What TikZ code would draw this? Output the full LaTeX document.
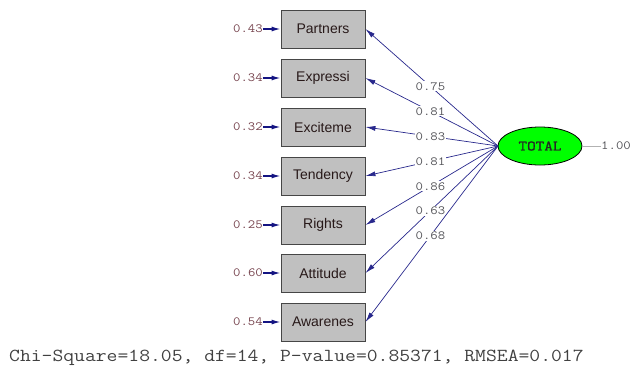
\documentclass[tikz,border=0pt]{standalone}
\usepackage{fontspec}
\setmainfont{Liberation Sans}
\newfontfamily\cour[FakeStretch=1.15]{Latin Modern Mono}
\newfontfamily\courb[FakeStretch=1.15,FakeBold=1.2]{Latin Modern Mono}
\usetikzlibrary{arrows.meta,shapes.geometric}
\definecolor{arrowblue}{RGB}{40,40,140}
\definecolor{errblue}{RGB}{20,20,130}
\definecolor{boxgray}{RGB}{192,192,192}
\definecolor{edgegray}{RGB}{70,70,70}
\definecolor{errred}{RGB}{120,70,80}
\definecolor{labgray}{RGB}{85,85,90}
\definecolor{boxtext}{RGB}{40,25,25}
\definecolor{lvgreen}{RGB}{0,255,0}
\tikzset{
  x=1pt, y=-1pt,
  obs/.style={draw=edgegray, line width=0.9pt, fill=boxgray, minimum width=84pt, minimum height=38pt, inner sep=0pt, font=\fontsize{14}{14}\selectfont, text=boxtext},
  lat/.style={ellipse, draw=black, line width=0.8pt, fill=lvgreen, minimum width=84pt, minimum height=38pt, inner sep=0pt, font=\courb\fontsize{14.5}{14.5}\selectfont, text=black!85},
  errlab/.style={anchor=east, inner sep=0pt, font=\cour\fontsize{12.5}{12.5}\selectfont, text=errred},
  load/.style={draw=arrowblue, line width=0.7pt, -{Latex[length=10pt,width=5pt]}},
  errarr/.style={draw=errblue, line width=1.3pt, -{Latex[length=9pt,width=5pt]}},
  coef/.style={pos=0.51, fill=white, inner sep=1pt, font=\cour\fontsize{12.5}{12.5}\selectfont, text=labgray},
  fitlab/.style={anchor=west, inner sep=0pt, font=\cour\fontsize{18.3}{18.3}\selectfont, text=black!75}
}
\begin{document}
\begin{tikzpicture}
\useasboundingbox (0,0) rectangle (634,368);
\node[lat] (T) at (540,146) {TOTAL};
\coordinate (Tw) at (498,146);
\foreach \n/\lab/\yy/\err/\c in {p/Partners/29/0.43/0.75, e/Expressi/78/0.34/0.81, x/Exciteme/127/0.32/0.83, t/Tendency/176/0.34/0.81, r/Rights/225/0.25/0.86, a/Attitude/273/0.60/0.63, w/Awarenes/322/0.54/0.68}{
  \node[obs] (\n) at (323,\yy) {\lab};
  \node[errlab] (\n e) at (263,\yy) {\err};
  \draw[errarr] (\n e.east) -- (\n.west);
  \draw[load] (Tw) -- node[coef] (\n c) {\c} (\n.east);
}
\coordinate (Te) at (601,146);
\draw[gray!60, line width=0.6pt] (T.east) -- (Te);
\node[anchor=west, inner sep=0pt, font=\cour\fontsize{12.5}{12.5}\selectfont, text=labgray] (one) at (Te) {1.00};
\node[fitlab] (fit) at (9,358) {Chi-Square=18.05, df=14, P-value=0.85371, RMSEA=0.017};
\end{tikzpicture}
\end{document}
